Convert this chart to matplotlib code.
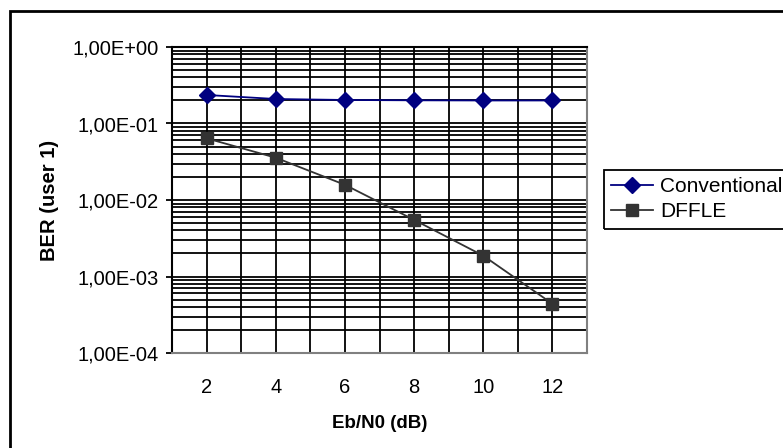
import numpy as np
import matplotlib.pyplot as plt
from matplotlib.patches import Rectangle
from matplotlib.ticker import LogLocator, FixedLocator, NullFormatter

plt.rcParams['font.family'] = ['Liberation Sans', 'DejaVu Sans']

ebn0 = [2, 4, 6, 8, 10, 12]
ber_conv = [0.236, 0.209, 0.203, 0.201, 0.200, 0.200]
ber_dffle = [0.064, 0.0357, 0.0158, 0.0055, 0.00187, 0.00044]
ytick_labels = ['1,00E-04', '1,00E-03', '1,00E-02', '1,00E-01', '1,00E+00']

W, H = 783, 448
fig = plt.figure(figsize=(W / 100, H / 100), dpi=100)
ax = fig.add_axes([172 / W, 1 - 353 / H, (587 - 172) / W, (353 - 47) / H])

ax.plot(ebn0, ber_conv, color='#000080', lw=1.3, marker='D', ms=8.5,
        mfc='#000080', mec='#000080', label='Conventional', zorder=5)
ax.plot(ebn0, ber_dffle, color='#333333', lw=1.3, marker='s', ms=8,
        mfc='#333333', mec='#333333', label='DFFLE', zorder=5)

ax.set_yscale('log')
ax.set_ylim(1e-4, 1)
ax.set_xlim(1, 13)

ax.yaxis.set_major_locator(FixedLocator([1e-4, 1e-3, 1e-2, 1e-1, 1]))
ax.set_yticklabels(ytick_labels)
ax.yaxis.set_minor_locator(LogLocator(base=10, subs=np.arange(2, 10)))
ax.yaxis.set_minor_formatter(NullFormatter())
ax.set_xticks(ebn0)
ax.set_xticks(np.arange(1, 14), minor=True)

ax.grid(True, which='both', axis='y', color='black', lw=1.3)
ax.grid(True, which='both', axis='x', color='black', lw=1.3)
ax.set_axisbelow(True)

ax.tick_params(axis='y', which='major', direction='out', length=4.5, width=1.3,
               labelsize=14.5, pad=5)
ax.tick_params(axis='y', which='minor', length=0)
ax.tick_params(axis='x', which='both', length=0, labelsize=14.5, pad=18)

ax.spines['left'].set_color('black')
ax.spines['top'].set_color('black')
ax.spines['right'].set_color('#808080')
ax.spines['bottom'].set_color('#808080')
for s in ax.spines.values():
    s.set_linewidth(1.5)

ax.set_xlabel('Eb/N0 (dB)', fontsize=13.5, fontweight='bold', labelpad=13)
ax.set_ylabel('BER (user 1)', fontsize=14.5, fontweight='bold', labelpad=10)

leg = fig.legend(loc='upper left', bbox_to_anchor=(611 / W, 1 - 177 / H),
                 frameon=False, fontsize=15, handlelength=2.0,
                 handletextpad=0.35, labelspacing=0.28, borderaxespad=0,
                 borderpad=0)

# legend frame running off the right edge, as in the source
fig.add_artist(Rectangle((604 / W, 1 - 229 / H), 200 / W, 59 / H,
                         transform=fig.transFigure, fill=False,
                         ec='black', lw=1.3))
# outer chart border
fig.add_artist(Rectangle((10 / W, -20 / H), 800 / W, (448 - 11 + 20) / H,
                         transform=fig.transFigure, fill=False,
                         ec='black', lw=2))

fig.savefig('out.png', dpi=100)
